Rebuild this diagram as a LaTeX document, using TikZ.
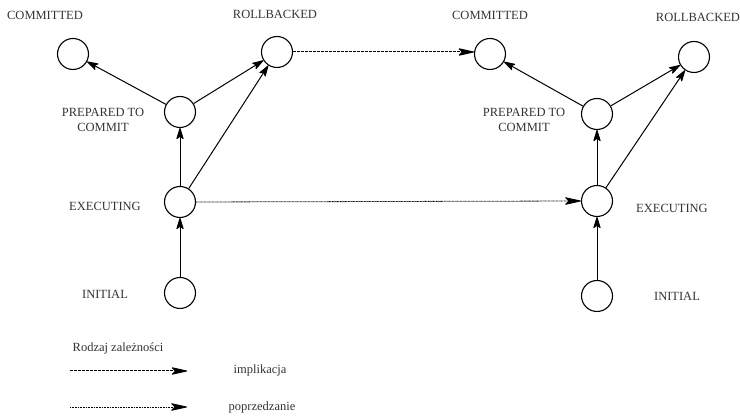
\documentclass[tikz,border=0pt]{standalone}
\usepackage{fontspec}
\setmainfont{Liberation Serif}
\usetikzlibrary{arrows.meta}
\begin{document}
\begin{tikzpicture}[x=1pt,y=1pt,
  state/.style={circle,draw,line width=1.1pt,minimum size=31pt,inner sep=0pt},
  lbl/.style={font=\fontsize{12.5}{14.5}\selectfont,align=center,text=black!80},
  tip/.style={-{Stealth[length=13pt,width=8pt,inset=3pt,round]}},
  tr/.style={line width=1pt,tip},
  impl/.style={line width=1pt,dash pattern=on 2.5pt off 1.5pt,
    -{Stealth[length=18pt,width=8pt,inset=4pt,round]}},
  prec/.style={line width=0.8pt,dash pattern=on 1pt off 0.6pt,
    -{Stealth[length=18pt,width=8pt,inset=4pt,round]}}]
\useasboundingbox (0,0) rectangle (740,419);

% left transaction
\node[state] (lc) at (73,365) {};
\node[state] (lr) at (277,367) {};
\node[state] (lp) at (180,307) {};
\node[state] (le) at (180,217) {};
\node[state] (li) at (180,126) {};
\node[lbl] at (45,404) {COMMITTED};
\node[lbl] at (275,405) {ROLLBACKED};
\node[lbl] at (103,299) {PREPARED TO\\COMMIT};
\node[lbl] at (105,213) {EXECUTING};
\node[lbl] at (105,125) {INITIAL};

% right transaction
\node[state] (rc) at (490,365) {};
\node[state] (rr) at (694,362) {};
\node[state] (rp) at (597,305) {};
\node[state] (re) at (597,218) {};
\node[state] (ri) at (597,123) {};
\node[lbl] at (490,404) {COMMITTED};
\node[lbl] at (698,402) {ROLLBACKED};
\node[lbl] at (524,299) {PREPARED TO\\COMMIT};
\node[lbl] at (672,211) {EXECUTING};
\node[lbl] at (677,123) {INITIAL};

% transitions
\draw[tr] (lp) -- (lc);
\draw[tr] (lp) -- (lr);
\draw[tr] (le) -- (lp);
\draw[tr] (le) -- (lr);
\draw[tr] (li) -- (le);
\draw[tr] (rp) -- (rc);
\draw[tr] (rp) -- (rr);
\draw[tr] (re) -- (rp);
\draw[tr] (re) -- (rr);
\draw[tr] (ri) -- (re);

% dependencies between transactions
\draw[impl] (lr.east) -- (rc.west |- lr.east);
\draw[prec] (le.east) -- (re.west);

% legend
\node[lbl] (lt) at (118,71) {Rodzaj zależności};
\coordinate (ia) at (70,48);
\coordinate (ib) at (187,48);
\coordinate (pa) at (70,12);
\coordinate (pb) at (187,12);
\draw[impl] (ia) -- (ib);
\draw[prec] (pa) -- (pb);
\node[lbl] (il) at (260,48) {implikacja};
\node[lbl] (pl) at (262,11) {poprzedzanie};
\end{tikzpicture}
\end{document}
